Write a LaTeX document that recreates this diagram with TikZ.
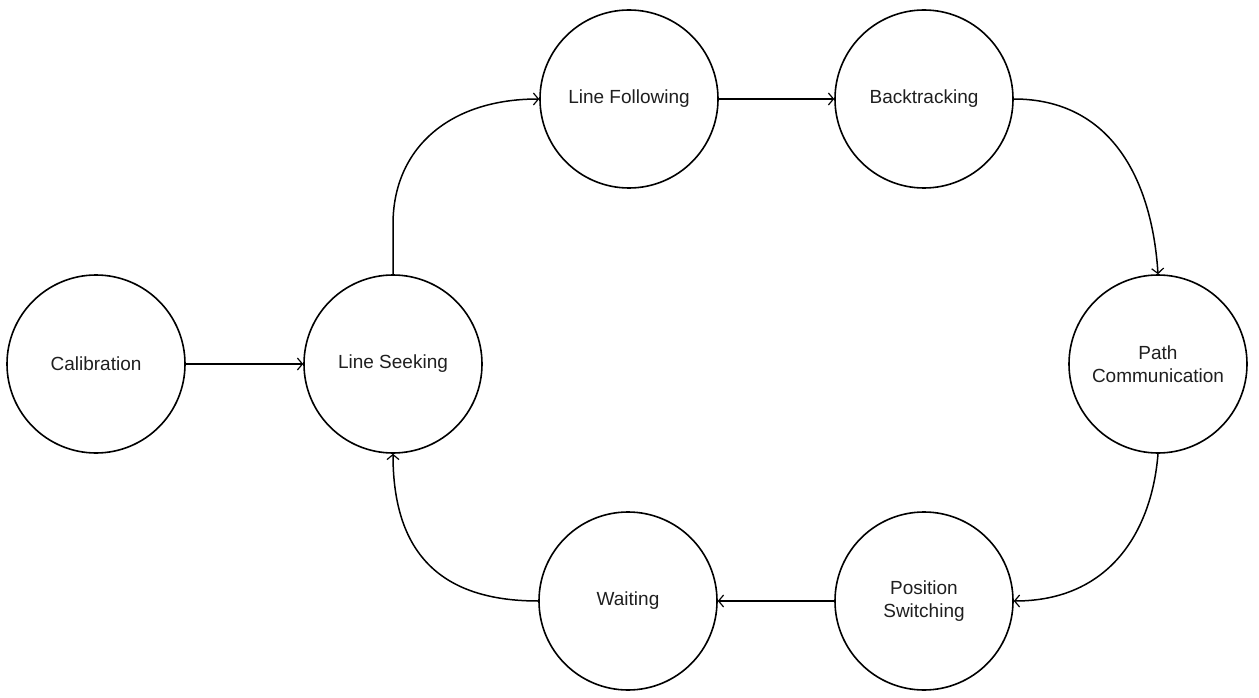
\documentclass[tikz,border=0pt]{standalone}
\usepackage{fontspec}
\setmainfont{Liberation Sans}
\usetikzlibrary{arrows.meta}
\begin{document}
\begin{tikzpicture}[x=1pt,y=-1pt,
  state/.style={circle,draw,line width=1.6pt,minimum size=178pt,inner sep=0pt,align=center,
    font=\fontsize{19}{22.5}\selectfont,text=black!88},
  edge/.style={line width=1.5pt,-{Straight Barb[length=5pt,width=12pt,line width=1.2pt]}}]
\useasboundingbox (0,0) rectangle (1259,698);
\node[state] (cal) at (96,364) {Calibration};
\node[state] (ls) at (393,364) {Line Seeking};
\node[state] (lf) at (629,99) {Line Following};
\node[state] (bt) at (924,99) {Backtracking};
\node[state] (pc) at (1158,364) {Path\\Communication};
\node[state] (ps) at (924,601) {Position\\Switching};
\node[state] (w) at (628,601) {Waiting};
\draw[edge] (cal.east) -- (ls.west);
\draw[edge] (lf.east) -- (bt.west);
\draw[edge] (ps.west) -- (w.east);
\draw[edge] (ls.north) -- ++(0,-50) .. controls +(0,-75) and +(-91,0) .. (lf.west);
\draw[edge] (bt.east) .. controls +(97,0) and +(-6,-95) .. (pc.north);
\draw[edge] (pc.south) .. controls +(-6,76) and +(97,0) .. (ps.east);
\draw[edge] (w.west) .. controls +(-100,0) and +(0,97) .. (ls.south);
\end{tikzpicture}
\end{document}
